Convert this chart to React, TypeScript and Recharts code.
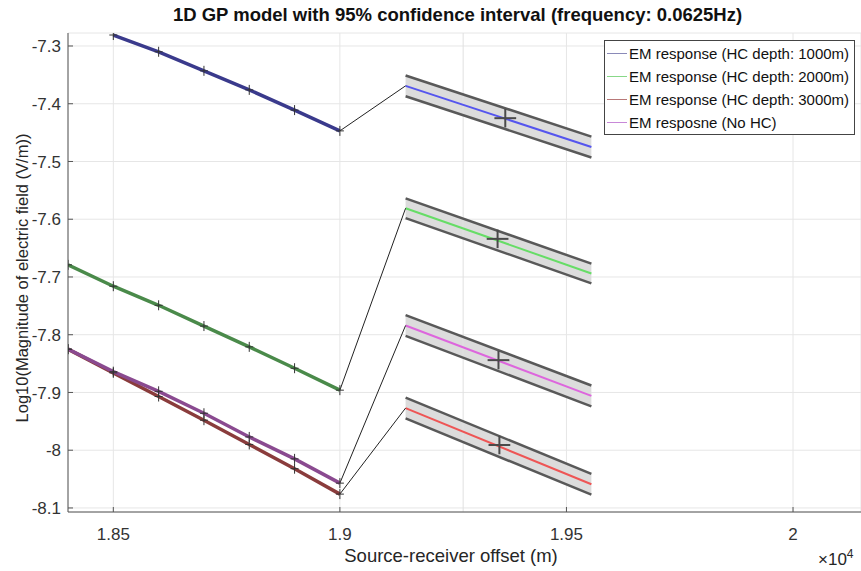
import React from "react";
import {
  ComposedChart,
  Line,
  Area,
  Scatter,
  ErrorBar,
  XAxis,
  YAxis,
  CartesianGrid,
  ReferenceLine,
} from "recharts";

// source-receiver offsets of the sampled responses (m)
const offsets = [18400, 18500, 18600, 18700, 18800, 18900, 19000];
const em1000 = [null, -7.281, -7.31, -7.343, -7.376, -7.411, -7.447];
const em2000 = [-7.679, -7.716, -7.749, -7.785, -7.821, -7.858, -7.896];
const em3000 = [-7.825, -7.866, -7.907, -7.948, -7.99, -8.032, -8.076];
const emNoHC = [-7.825, -7.864, -7.898, -7.936, -7.977, -8.015, -8.057];

// GP prediction bands (mean at start / end of the predicted range)
const bandX = [19145, 19555];
const band1000 = [-7.369, -7.475];
const band2000 = [-7.581, -7.694];
const band3000 = [-7.927, -8.059];
const bandNoHC = [-7.784, -7.906];
const bandHalf = [0.018, 0.017, 0.018, 0.018];

// test point with error bars
const testX = [19365, 19348, 19352, 19350];
const testY = [-7.425, -7.634, -7.991, -7.844];
const testErrY = 0.016;
const testErrX = 24;

const xTicks = [18500, 19000, 19500, 20000];
const yTicks = [-8.1, -8, -7.9, -7.8, -7.7, -7.6, -7.5, -7.4, -7.3];

const legendNames = [
  "EM response (HC depth: 1000m)",
  "EM response (HC depth: 2000m)",
  "EM response (HC depth: 3000m)",
  "EM resposne (No HC)",
];
const legendColors = ["#8a8ab8", "#88d888", "#b87878", "#c888d8"];

const lineDark = ["#3a3a8c", "#4a8a4a", "#8a3c3c", "#8a4a90"];
const lineBright = ["#5555ee", "#66dd66", "#ee5555", "#dd66dd"];

const leftSeries = [em1000, em2000, em3000, emNoHC];
const bands = [band1000, band2000, band3000, bandNoHC];

const FONT = '"Liberation Sans", Arial, sans-serif';

const toPoints = (vals: (number | null)[]) =>
  offsets
    .map((x, i) => ({ x, y: vals[i] }))
    .filter((p) => p.y !== null);

const plusDot = (props: any) => {
  const { cx, cy, index } = props;
  if (cx == null || cy == null) return <g key={index} />;
  return (
    <path
      key={index}
      d={`M${cx - 4},${cy}h8M${cx},${cy - 5}v10`}
      stroke="#333"
      strokeWidth={1}
      fill="none"
    />
  );
};

export default function App() {
  const W = 861;
  const H = 571;

  return (
    <div style={{ position: "relative", width: W, height: H, fontFamily: FONT }}>
      <style>{`body{margin:0}`}</style>
      <ComposedChart
        width={W}
        height={H}
        margin={{ top: 33, right: 0, bottom: 29, left: 8 }}
      >
        <CartesianGrid stroke="#e6e6e6" />
        <XAxis
          type="number"
          dataKey="x"
          domain={[18400, 20150]}
          allowDataOverflow
          ticks={xTicks}
          tickFormatter={(v) => String(v / 10000)}
          tick={{ fill: "#333", fontSize: 17, fontFamily: FONT }}
          stroke="#555"
          tickSize={-5}
          tickMargin={21}
          height={30}
        />
        <YAxis
          type="number"
          domain={[-8.107, -7.2775]}
          allowDataOverflow
          ticks={yTicks}
          tickFormatter={(v) => String(Math.round(v * 10) / 10)}
          tick={{ fill: "#333", fontSize: 17, fontFamily: FONT }}
          stroke="#555"
          tickSize={-5}
          tickMargin={12}
          width={60}
        />
        <ReferenceLine x={19272} stroke="#e0e0e0" />

        {bands.map((b, k) => (
          <Area
            key={`band${k}`}
            data={bandX.map((x, i) => ({
              x,
              r: [b[i] - bandHalf[k], b[i] + bandHalf[k]],
            }))}
            dataKey="r"
            type="linear"
            fill="#dcdcdc"
            fillOpacity={1}
            stroke="none"
            isAnimationActive={false}
          />
        ))}
        {bands.map((b, k) =>
          [-1, 1].map((s) => (
            <Line
              key={`edge${k}${s}`}
              data={bandX.map((x, i) => ({ x, y: b[i] + s * bandHalf[k] }))}
              dataKey="y"
              type="linear"
              stroke="#595959"
              strokeWidth={2.5}
              dot={false}
              isAnimationActive={false}
            />
          ))
        )}
        {bands.map((b, k) => (
          <Line
            key={`mean${k}`}
            data={bandX.map((x, i) => ({ x, y: b[i] }))}
            dataKey="y"
            type="linear"
            stroke={lineBright[k]}
            strokeWidth={2}
            dot={false}
            isAnimationActive={false}
          />
        ))}
        {leftSeries.map((s, k) => (
          <Line
            key={`conn${k}`}
            data={[
              { x: offsets[offsets.length - 1], y: s[s.length - 1] },
              { x: bandX[0], y: bands[k][0] },
            ]}
            dataKey="y"
            type="linear"
            stroke="#222"
            strokeWidth={1}
            dot={false}
            isAnimationActive={false}
          />
        ))}
        {leftSeries.map((s, k) => (
          <Line
            key={`left${k}`}
            data={toPoints(s)}
            dataKey="y"
            type="linear"
            stroke={lineDark[k]}
            strokeWidth={3.5}
            dot={plusDot}
            isAnimationActive={false}
          />
        ))}
        <Scatter
          data={testX.map((x, i) => ({ x, y: testY[i], ex: testErrX, ey: testErrY }))}
          dataKey="y"
          fill="#444"
          shape={() => <g />}
          isAnimationActive={false}
        >
          <ErrorBar dataKey="ey" direction="y" width={0} stroke="#4a4a4a" strokeWidth={2} />
          <ErrorBar dataKey="ex" direction="x" width={0} stroke="#4a4a4a" strokeWidth={2} />
        </Scatter>
      </ComposedChart>

      {/* title */}
      <div
        style={{
          position: "absolute",
          top: 4,
          left: 50,
          width: 815,
          textAlign: "center",
          fontSize: 18.5,
          fontWeight: "bold",
          color: "#111",
        }}
      >
        1D GP model with 95% confidence interval (frequency: 0.0625Hz)
      </div>

      {/* y label */}
      <div
        style={{
          position: "absolute",
          left: 22,
          top: 278,
          transform: "translate(-50%, -50%) rotate(-90deg)",
          whiteSpace: "nowrap",
          fontSize: 16.5,
          color: "#262626",
        }}
      >
        Log10(Magnitude of electric field (V/m))
      </div>

      {/* x label */}
      <div
        style={{
          position: "absolute",
          top: 545,
          left: 50,
          width: 802,
          textAlign: "center",
          fontSize: 18.5,
          color: "#262626",
        }}
      >
        Source-receiver offset (m)
      </div>

      {/* exponent */}
      <div
        style={{
          position: "absolute",
          top: 547,
          left: 818,
          fontSize: 17,
          color: "#262626",
        }}
      >
        ×10<sup style={{ fontSize: 12 }}>4</sup>
      </div>

      {/* legend */}
      <div
        style={{
          position: "absolute",
          left: 604,
          top: 40,
          width: 251,
          height: 95,
          border: "1px solid #444",
          background: "#fff",
          boxSizing: "border-box",
          paddingTop: 1,
        }}
      >
        {legendNames.map((n, i) => (
          <div
            key={n}
            style={{ display: "flex", alignItems: "center", height: 23, fontSize: 15, color: "#111" }}
          >
            <span
              style={{
                display: "inline-block",
                width: 20,
                height: 0,
                borderTop: `1px solid ${legendColors[i]}`,
                marginLeft: 2,
                marginRight: 2,
              }}
            />
            {n}
          </div>
        ))}
      </div>
    </div>
  );
}
